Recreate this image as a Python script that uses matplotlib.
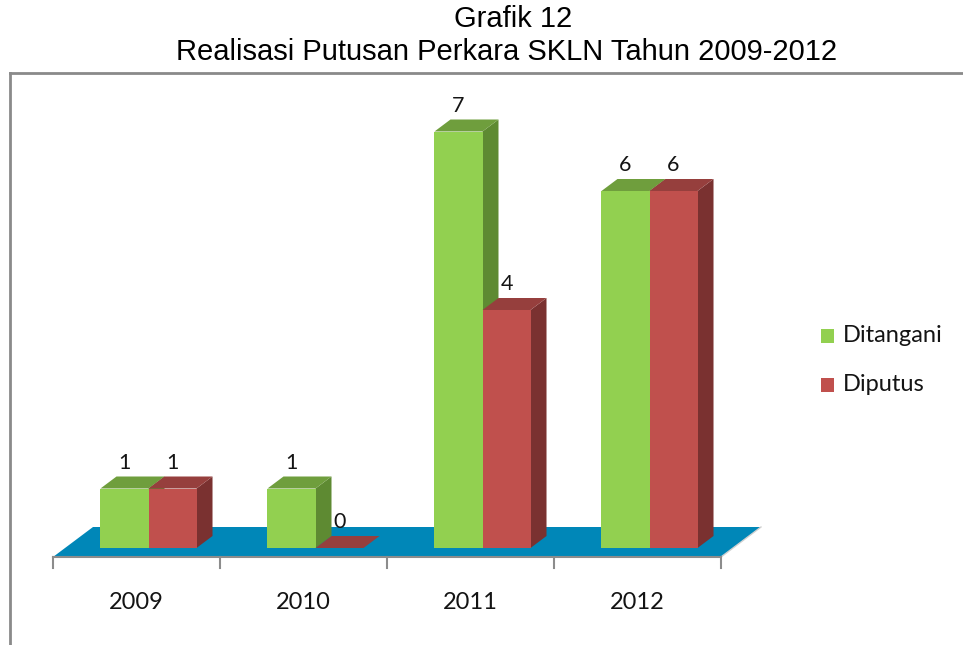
import matplotlib.pyplot as plt
from matplotlib.patches import Polygon
from matplotlib.lines import Line2D

# data
years = ['2009', '2010', '2011', '2012']
ditangani = [1, 1, 7, 6]
diputus = [1, 0, 4, 6]
series = ['Ditangani', 'Diputus']

# colours: front, top, side
green = ['#92D050', '#6F9E3D', '#5E8A32']
red = ['#C0504D', '#963F3D', '#7A3130']
floor_col = '#0087B8'
axis_col = '#8C8C8C'

W, H = 963, 645
fig = plt.figure(figsize=(9.63, 6.45), dpi=100)
ax = fig.add_axes([0, 0, 1, 1])

# scale: pixels per category / per value unit
px_x = 167.0
px_y = 59.5
x0 = 53
y0 = 557
ax.set_xlim(-x0 / px_x, (W - x0) / px_x)
ax.set_ylim(-(H - y0) / px_y, y0 / px_y)
ax.axis('off')

# oblique depth offsets (data units per unit depth)
dx = 40 / px_x
dy = 30 / px_y


def proj(x, y, z):
    return (x + z * dx, y + z * dy)


n = len(years)

# floor
floor = [proj(0, 0, 0), proj(n, 0, 0), proj(n, 0, 1), proj(0, 0, 1)]
ax.add_patch(Polygon(floor, closed=True, facecolor=floor_col, edgecolor='none'))
ax.plot([n, n + dx], [0, dy], color='#D0D0D0', lw=1)

# category axis
ax.plot([0, n], [0, 0], color=axis_col, lw=1.5)
for i in range(n + 1):
    ax.plot([i, i], [0, -11 / px_y], color=axis_col, lw=1.5)

# bars
bw = 0.2875
z0, z1 = 0.3, 0.7
for i in range(n):
    for s, (vals, cols) in enumerate([(ditangani, green), (diputus, red)]):
        v = vals[i]
        xl = i + 0.2125 + s * bw
        xr = xl + bw
        side = [proj(xr, 0, z0), proj(xr, 0, z1), proj(xr, v, z1), proj(xr, v, z0)]
        top = [proj(xl, v, z0), proj(xr, v, z0), proj(xr, v, z1), proj(xl, v, z1)]
        front = [proj(xl, 0, z0), proj(xr, 0, z0), proj(xr, v, z0), proj(xl, v, z0)]
        ax.add_patch(Polygon(side, closed=True, facecolor=cols[2], edgecolor='none'))
        ax.add_patch(Polygon(top, closed=True, facecolor=cols[1], edgecolor='none'))
        if v > 0:
            ax.add_patch(Polygon(front, closed=True, facecolor=cols[0], edgecolor='none'))
        xc = (xl + xr) / 2
        ax.annotate(str(v), xy=(xc + z0 * dx, v + z1 * dy), xytext=(0, 10),
                    textcoords='offset points', ha='center', va='center',
                    fontsize=15.5, family='Lato', color='#141414')

for i, y in enumerate(years):
    ax.text(i + 0.5, -52 / px_y, y, ha='center', va='baseline',
            fontsize=17, family='Lato', color='#141414')

# legend
for k, (name, cols) in enumerate(zip(series, [green, red])):
    yy = 1 - (336 + k * 49) / H
    fig.patches.append(plt.Rectangle((821 / W, yy - 7 / H), 13 / W, 14 / H,
                                     transform=fig.transFigure, facecolor=cols[0],
                                     edgecolor='none'))
    fig.text(843 / W, yy, name, ha='left', va='center', fontsize=17,
             family='Lato', color='#141414')

# frame
fig.add_artist(Line2D([10 / W, 1], [1 - 73 / H, 1 - 73 / H], color='#8A8A8A', lw=2))
fig.add_artist(Line2D([10 / W, 10 / W], [0, 1 - 73 / H], color='#8A8A8A', lw=2))

# title
fig.text(513 / W, 1 - 27 / H, 'Grafik 12', ha='center', va='baseline',
         fontsize=21, family='Liberation Sans')
fig.text(507 / W, 1 - 60 / H, 'Realisasi Putusan Perkara SKLN Tahun 2009-2012',
         ha='center', va='baseline', fontsize=21, family='Liberation Sans')

fig.savefig('out.png', dpi=100)
